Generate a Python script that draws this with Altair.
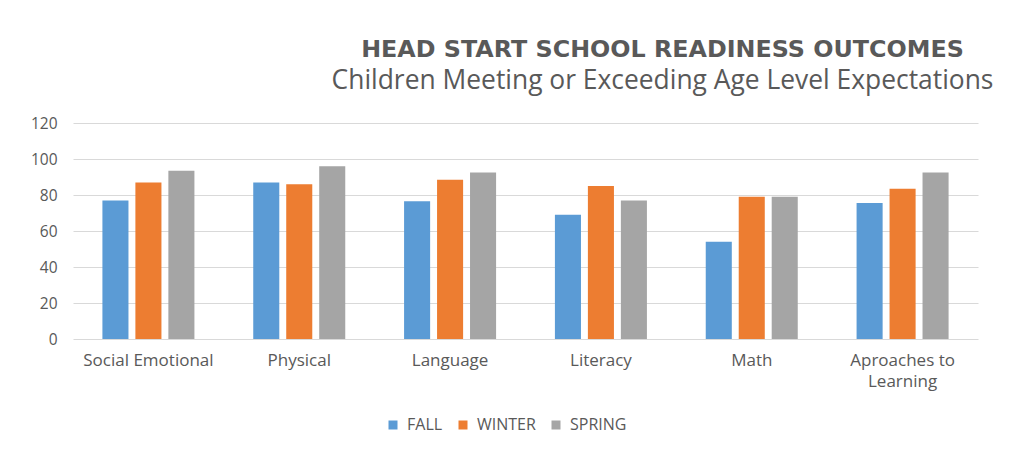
import altair as alt
import pandas as pd

categories = ["Social Emotional", "Physical", "Language", "Literacy", "Math", "Aproaches to Learning"]
seasons = ["FALL", "WINTER", "SPRING"]
fall = [77, 87, 76.5, 69, 54, 75.5]
winter = [87, 86, 88.5, 85, 79, 83.5]
spring = [93.5, 96, 92.5, 77, 79, 92.5]
colors = ["#5B9BD5", "#ED7D31", "#A5A5A5"]
y_ticks = [0, 20, 40, 60, 80, 100, 120]

rows = []
for i, c in enumerate(categories):
    for s, vals in zip(seasons, [fall, winter, spring]):
        rows.append({"category": c, "season": s, "value": vals[i]})
df = pd.DataFrame(rows)

FONT = "Open Sans"
TXT = "#595959"

chart = alt.Chart(df).mark_bar().encode(
    x=alt.X(
        "category:N", sort=categories, title=None,
        scale=alt.Scale(paddingInner=0.39, paddingOuter=0.195),
        axis=alt.Axis(
            labelAngle=0, labelFontSize=17, labelColor=TXT, labelFont=FONT,
            labelPadding=13, ticks=False, domain=False, grid=False,
            labelExpr="datum.value == 'Aproaches to Learning' ? ['Aproaches to', 'Learning'] : datum.value",
            labelLineHeight=21,
        ),
    ),
    xOffset=alt.XOffset("season:N", sort=seasons, scale=alt.Scale(paddingInner=0.21, paddingOuter=0)),
    y=alt.Y(
        "value:Q", title=None, scale=alt.Scale(domain=[0, 120], nice=False),
        axis=alt.Axis(
            values=y_ticks, labelFontSize=15.5, labelColor=TXT, labelFont=FONT,
            labelPadding=16, ticks=False, domain=False, grid=True,
            gridColor="#D9D9D9", gridWidth=1,
        ),
    ),
    color=alt.Color(
        "season:N", sort=seasons,
        scale=alt.Scale(domain=seasons, range=colors),
        legend=alt.Legend(
            title=None, orient="none", legendX=312, legendY=294, direction="horizontal",
            symbolType="square", symbolSize=81, symbolStrokeWidth=0,
            labelFontSize=16, labelColor=TXT, labelFont=FONT,
            labelOffset=6, columnPadding=12, padding=0,
        ),
    ),
).properties(
    width=905,
    height=216,
    title=alt.Title(
        text="HEAD START SCHOOL READINESS OUTCOMES",
        subtitle="Children Meeting or Exceeding Age Level Expectations",
        anchor="middle", frame="group", dx=137,
        font="DejaVu Sans", fontSize=23.8, fontWeight="bold", color=TXT,
        subtitleFont=FONT, subtitleFontSize=26.4, subtitleColor=TXT,
        subtitlePadding=6, offset=22,
    ),
    background="white",
    autosize=alt.AutoSizeParams(type="none"),
    padding={"left": 65, "top": 115, "right": 32, "bottom": 114},
).configure_view(strokeWidth=0, stroke="transparent")

chart.save("out.html", embed_options={"renderer": "svg", "actions": False})
